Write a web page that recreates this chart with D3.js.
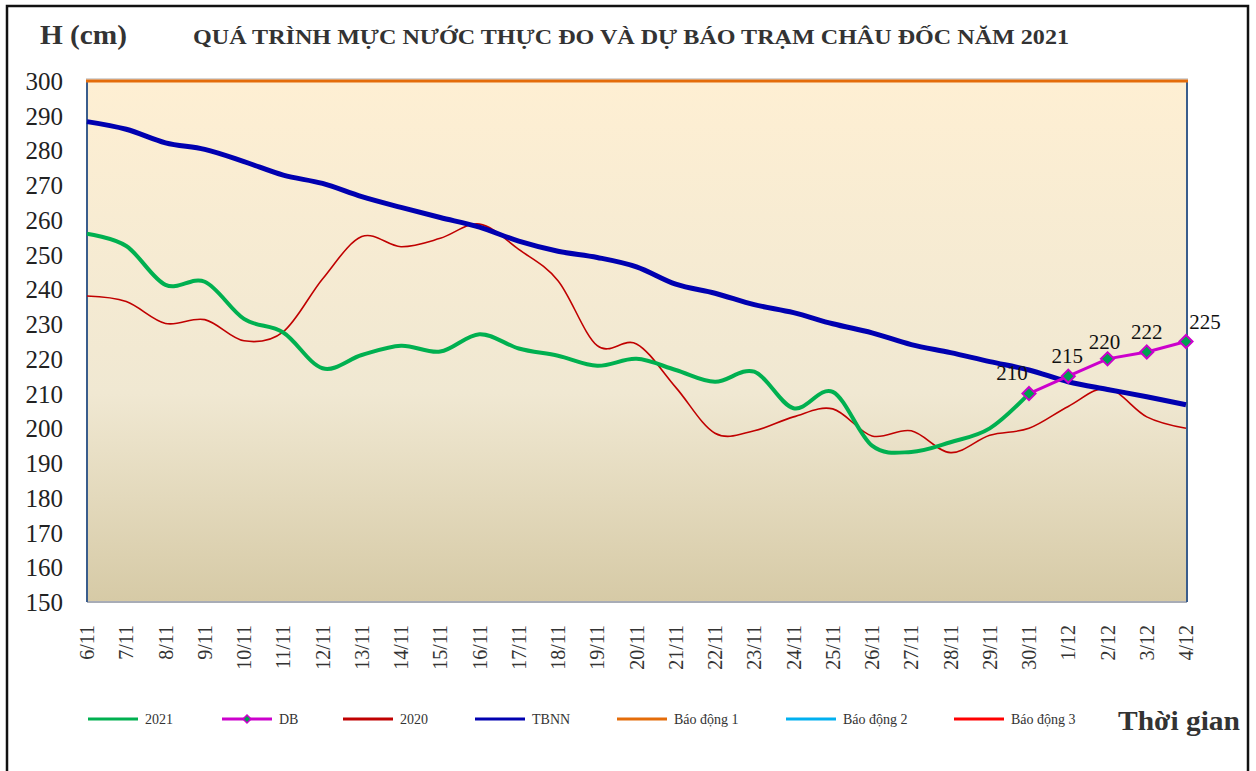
<!DOCTYPE html>
<html>
<head>
<meta charset="utf-8">
<script src="https://cdn.jsdelivr.net/npm/d3@7"></script>
<style>
  body { margin: 0; background: #fff; }
  text { font-family: "Liberation Serif", "Times New Roman", serif; }
</style>
</head>
<body>
<svg id="chart" width="1256" height="771"></svg>
<script>
// data
var dates = ["6/11","7/11","8/11","9/11","10/11","11/11","12/11","13/11","14/11","15/11",
  "16/11","17/11","18/11","19/11","20/11","21/11","22/11","23/11","24/11","25/11",
  "26/11","27/11","28/11","29/11","30/11","1/12","2/12","3/12","4/12"];
var h2021 = [256, 252.5, 241.3, 242.2, 231.5, 227.6, 217.3, 221.1, 223.8, 222.1,
  227.1, 223, 220.9, 218, 220, 216.8, 213.4, 216.3, 205.8, 210.5,
  195, 193.2, 196, 200, 210];
var h2020 = [238.1, 236.5, 230.2, 231.3, 225.2, 227.8, 243, 255.2, 252.3, 254.7,
  258.8, 251.5, 242.5, 223.8, 224.3, 211.8, 198.6, 199.3, 203.3, 205.6,
  197.8, 199.3, 193, 198, 200, 206.3, 211.5, 203.3, 200];
var tbnn = [288.3, 286.1, 282.2, 280.3, 276.8, 272.9, 270.5, 266.7, 263.6, 260.7,
  257.9, 253.9, 251, 249.2, 246.5, 241.5, 238.9, 235.6, 233.3, 230.1,
  227.5, 224.1, 221.8, 219.2, 216.8, 213.4, 211.2, 209.1, 206.8];
var dbDates = ["30/11","1/12","2/12","3/12","4/12"];
var dbValues = [210, 215, 220, 222, 225];
var baoDong1 = 300;
var yTicks = [150,160,170,180,190,200,210,220,230,240,250,260,270,280,290,300];
var legendItems = [
  {name: "2021", color: "#00B050", w: 3},
  {name: "DB", color: "#CC00CC", w: 3, marker: true},
  {name: "2020", color: "#C00000", w: 3},
  {name: "TBNN", color: "#0000B0", w: 3},
  {name: "Báo động 1", color: "#E46C0A", w: 3},
  {name: "Báo động 2", color: "#00B0F0", w: 3},
  {name: "Báo động 3", color: "#FF0000", w: 3}
];
var legendX = [88, 222, 343, 475, 617, 786, 954];
var labelOffset = [[-17,-14],[-1,-13],[-3,-10],[0,-13],[19,-13]];

var svg = d3.select("#chart");
var pLeft = 87, pRight = 1186, pTop = 81, pBottom = 602;

var x = d3.scalePoint().domain(dates).range([pLeft, pRight]);
var y = d3.scaleLinear().domain([150, 300]).range([pBottom, pTop]);

// outer frame
svg.append("rect").attr("x", 7).attr("y", 6).attr("width", 1241).attr("height", 800)
  .attr("fill", "none").attr("stroke", "#111").attr("stroke-width", 2.5);

// plot background
var grad = svg.append("defs").append("linearGradient").attr("id", "bg")
  .attr("x1", 0).attr("y1", 0).attr("x2", 0).attr("y2", 1);
grad.append("stop").attr("offset", "0%").attr("stop-color", "#FEEFD3");
grad.append("stop").attr("offset", "60%").attr("stop-color", "#F0E8D2");
grad.append("stop").attr("offset", "100%").attr("stop-color", "#D6CAA6");
svg.append("rect").attr("x", pLeft).attr("y", pTop).attr("width", pRight - pLeft)
  .attr("height", pBottom - pTop).attr("fill", "url(#bg)");

// plot borders
svg.append("line").attr("x1", pLeft).attr("x2", pRight + 1).attr("y1", pBottom).attr("y2", pBottom)
  .attr("stroke", "#A8ACB6").attr("stroke-width", 2);
svg.append("line").attr("x1", pLeft).attr("x2", pLeft).attr("y1", pTop).attr("y2", pBottom)
  .attr("stroke", "#3A5D8C").attr("stroke-width", 2);
svg.append("line").attr("x1", pRight + 1).attr("x2", pRight + 1).attr("y1", pTop).attr("y2", pBottom)
  .attr("stroke", "#3A5D8C").attr("stroke-width", 2);

// axes
var yAxis = svg.append("g").attr("transform", "translate(" + pLeft + ",0)")
  .call(d3.axisLeft(y).tickValues(yTicks).tickSize(0).tickPadding(24));
yAxis.select(".domain").remove();
yAxis.selectAll("text").style("font-size", "25px").attr("fill", "#222").attr("dy", "0.34em");

var xAxis = svg.append("g").attr("transform", "translate(0," + pBottom + ")")
  .call(d3.axisBottom(x).tickSize(0));
xAxis.select(".domain").remove();
xAxis.selectAll("text").attr("transform", "rotate(-90)")
  .attr("x", -23).attr("y", 0).attr("dy", "0.33em")
  .style("text-anchor", "end").style("font-size", "20px").attr("fill", "#333");

// alert level 1
svg.append("line").attr("x1", pLeft - 1).attr("x2", pRight + 2)
  .attr("y1", y(baoDong1) - 2).attr("y2", y(baoDong1) - 2)
  .attr("stroke", "#C8C8C8").attr("stroke-width", 1.5);
svg.append("line").attr("x1", pLeft - 1).attr("x2", pRight + 2)
  .attr("y1", y(baoDong1)).attr("y2", y(baoDong1))
  .attr("stroke", "#E46C0A").attr("stroke-width", 3);

var smooth = d3.line().x(function (d) { return x(d.k); }).y(function (d) { return y(d.v); })
  .curve(d3.curveCardinal.tension(0));
function pts(keys, vals) { return vals.map(function (v, i) { return {k: keys[i], v: v}; }); }

svg.append("path").datum(pts(dates, h2020)).attr("d", smooth)
  .attr("fill", "none").attr("stroke", "#C00000").attr("stroke-width", 1.6);
svg.append("path").datum(pts(dates, tbnn)).attr("d", smooth)
  .attr("fill", "none").attr("stroke", "#0000B0").attr("stroke-width", 5);
svg.append("path").datum(pts(dates, h2021)).attr("d", smooth)
  .attr("fill", "none").attr("stroke", "#00B050").attr("stroke-width", 4);

var dbPts = pts(dbDates, dbValues);
svg.append("path").datum(dbPts).attr("d", d3.line().x(function (d) { return x(d.k); }).y(function (d) { return y(d.v); }))
  .attr("fill", "none").attr("stroke", "#CC00CC").attr("stroke-width", 3);
svg.selectAll(".db").data(dbPts).enter().append("path")
  .attr("transform", function (d) { return "translate(" + x(d.k) + "," + y(d.v) + ")"; })
  .attr("d", d3.symbol().type(d3.symbolDiamond2).size(110))
  .attr("fill", "#00A050").attr("stroke", "#CC00CC").attr("stroke-width", 2);
svg.selectAll(".dbl").data(dbPts).enter().append("text")
  .attr("x", function (d, i) { return x(d.k) + labelOffset[i][0]; })
  .attr("y", function (d, i) { return y(d.v) + labelOffset[i][1]; })
  .attr("text-anchor", "middle").style("font-size", "21px").attr("fill", "#111")
  .text(function (d) { return d.v; });

// titles
svg.append("text").attr("x", 40).attr("y", 44).text("H (cm)")
  .style("font-size", "27px").style("font-weight", "bold").attr("fill", "#333")
  .attr("textLength", 87).attr("lengthAdjust", "spacingAndGlyphs");
svg.append("text").attr("x", 193).attr("y", 44)
  .text("QUÁ TRÌNH MỰC NƯỚC THỰC ĐO VÀ DỰ BÁO TRẠM CHÂU ĐỐC NĂM 2021")
  .style("font-size", "21px").style("font-weight", "bold").attr("fill", "#333")
  .attr("textLength", 876).attr("lengthAdjust", "spacingAndGlyphs");
svg.append("text").attr("x", 1118).attr("y", 730).text("Thời gian")
  .style("font-size", "27px").style("font-weight", "bold").attr("fill", "#333")
  .attr("textLength", 122).attr("lengthAdjust", "spacingAndGlyphs");

// legend
var lg = svg.selectAll(".lg").data(legendItems).enter().append("g")
  .attr("transform", function (d, i) { return "translate(" + legendX[i] + ",719)"; });
lg.append("line").attr("x1", 0).attr("x2", 50).attr("y1", 0).attr("y2", 0)
  .attr("stroke", function (d) { return d.color; }).attr("stroke-width", function (d) { return d.w; });
lg.filter(function (d) { return d.marker; }).append("path")
  .attr("transform", "translate(25,0)")
  .attr("d", d3.symbol().type(d3.symbolDiamond2).size(40))
  .attr("fill", "#00A050").attr("stroke", "#CC00CC").attr("stroke-width", 1.5);
lg.append("text").attr("x", 57).attr("y", 5).text(function (d) { return d.name; })
  .style("font-size", "14px").attr("fill", "#333");
</script>
</body>
</html>
